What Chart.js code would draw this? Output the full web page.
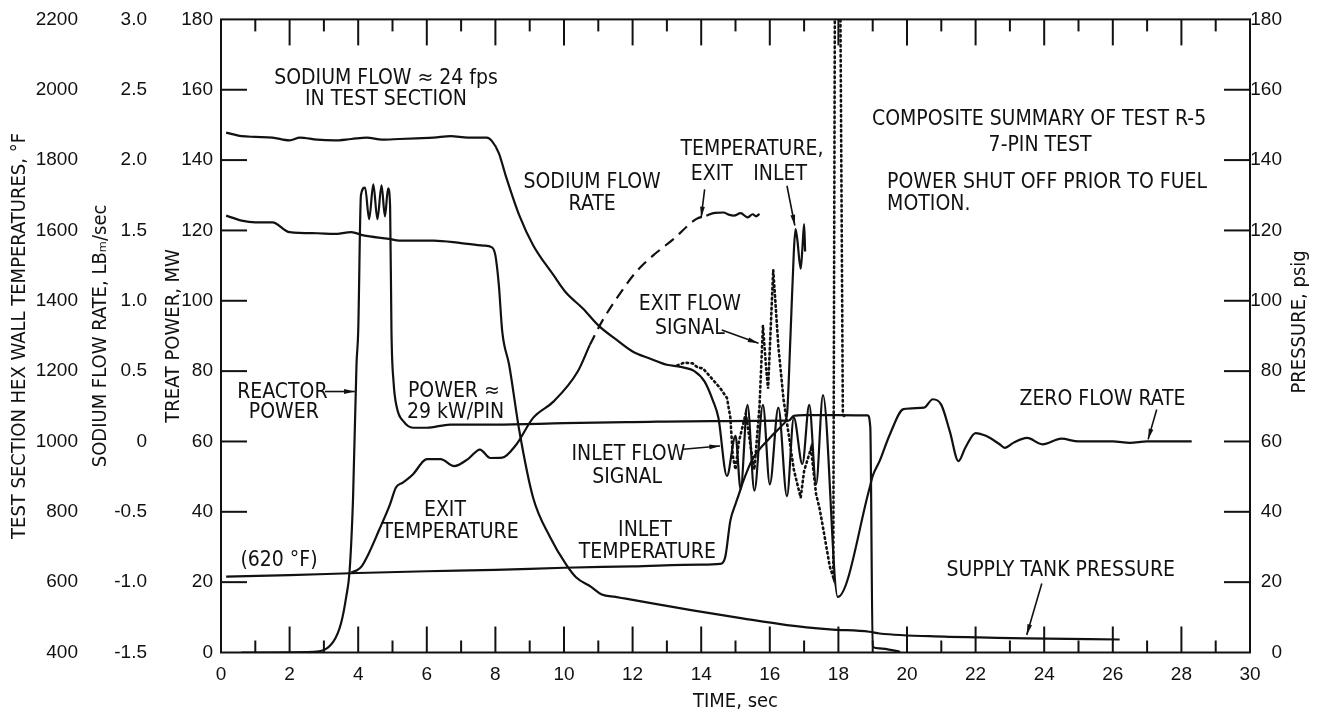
<!DOCTYPE html>
<html>
<head>
<meta charset="utf-8">
<script src="https://cdn.jsdelivr.net/npm/chart.js@4"></script>
<style>
html, body { margin: 0; padding: 0; background: #fff; }
</style>
</head>
<body>
<canvas id="myChart" width="1321" height="720"></canvas>
<script>
// tick labels
var timeTicks = [0, 2, 4, 6, 8, 10, 12, 14, 16, 18, 20, 22, 24, 26, 28, 30];
var powerTicks = [0, 20, 40, 60, 80, 100, 120, 140, 160, 180];
var flowTicks = [-1.5, -1.0, -0.5, 0, 0.5, 1.0, 1.5, 2.0, 2.5, 3.0];
var tempTicks = [400, 600, 800, 1000, 1200, 1400, 1600, 1800, 2000, 2200];
var pressTicks = [0, 20, 40, 60, 80, 100, 120, 140, 160, 180];

// sodium flow rate / inlet flow signal, lb/sec
var flowTime = [0.15, 0.6, 1.0, 1.5, 2.0, 2.3, 2.8, 3.3, 3.8, 4.25, 4.7, 5.2, 5.7, 6.2, 6.7, 7.2, 7.75, 7.9, 8.1, 8.3,
  8.7, 9.1, 9.7, 10.05, 10.55, 11.0, 11.6, 12.0, 12.5, 13.0, 13.4, 13.8, 14.1, 14.35, 14.5, 14.75, 15.0, 15.15, 15.35, 15.55,
  15.8, 16.0, 16.25, 16.5, 16.7, 16.95, 17.15, 17.35, 17.55, 17.98, 18.9, 19.0, 19.2, 19.5, 19.9, 20.5, 20.75, 21.0, 21.25,
  21.5, 21.7, 22.0, 22.3, 22.7, 22.85, 23.1, 23.5, 23.95, 24.5, 25.0, 26.0, 26.5, 27.0, 28.3];
var flowRate = [2.195, 2.17, 2.165, 2.16, 2.14, 2.16, 2.145, 2.14, 2.15, 2.16, 2.145, 2.15, 2.155, 2.16, 2.17, 2.16, 2.16, 2.135, 2.05, 1.89,
  1.605, 1.395, 1.18, 1.06, 0.945, 0.825, 0.71, 0.64, 0.59, 0.545, 0.53, 0.50, 0.425, 0.285, 0.17, -0.245, 0.04, -0.34, 0.26, -0.35,
  0.26, -0.305, 0.24, -0.39, 0.17, -0.16, 0.26, -0.305, 0.33, -1.105, -0.34, -0.245, -0.14, 0.05, 0.23, 0.24, 0.30, 0.26, 0.07,
  -0.14, -0.045, 0.06, 0.04, -0.02, -0.045, -0.01, 0.025, -0.02, 0.02, 0.0, 0.0, -0.01, 0.0, 0.0];

// exit flow signal (dotted), lb/sec
var exitSigTime = [13.3, 13.5, 13.75, 13.9, 14.05, 14.3, 14.55, 14.75, 14.85, 14.92, 15.0, 15.1, 15.3, 15.45, 15.55, 15.7, 15.8, 15.9,
  15.95, 16.1, 16.25, 16.4, 16.55, 16.7, 16.9, 17.0, 17.2, 17.35, 17.45, 17.55, 17.75, 17.85, 17.9, 18.05, 18.13, 18.2];
var exitSig = [0.54, 0.56, 0.555, 0.525, 0.52, 0.45, 0.38, 0.31, 0.17, -0.10, -0.2, 0, 0.2, -0.05, -0.2, 0.25, 0.825, 0.5,
  0.375, 1.22, 0.675, 0.3, 0.05, -0.2, -0.4, -0.21, -0.05, -0.375, -0.475, -0.61, -0.89, -0.965, 3.375, 3.375, 0.19, 0.175];

// reactor power, MW
var powerTime = [0.6, 2.7, 3.27, 3.5, 3.65, 3.75, 3.85, 3.95, 4.0, 4.08, 4.2, 4.32, 4.44, 4.56, 4.68, 4.78, 4.87, 4.93, 4.97, 5.03,
  5.13, 5.32, 5.6, 6.0, 6.68, 8.0, 10.0, 12.0, 14.3, 16.55, 16.7, 17.0, 18.0, 18.85, 18.93, 19.0, 19.2, 19.8];
var power = [0, 0.2, 3, 8.3, 15.8, 23.3, 44, 81.8, 91.2, 130, 132.2, 123.2, 133.1, 123.2, 132.8, 124, 132, 127, 91.2, 77,
  69.5, 65.7, 63.9, 63.9, 64.8, 64.8, 65.2, 65.5, 65.8, 65.9, 67.3, 67.5, 67.5, 67.4, 64, 1.6, 1.2, 0.2];

// exit temperature, deg F (measured, estimated dashed, measured again)
var exitTempTime = [3.8, 3.95, 4.1, 4.3, 4.6, 4.93, 5.1, 5.3, 5.6, 5.9, 6.0, 6.4, 6.8, 7.2, 7.55, 7.85, 8.2, 8.6, 9.1, 9.7, 10.4, 10.75];
var exitTemp = [628, 633, 645, 680, 746, 822, 869, 883, 907, 944, 950, 950, 930, 950, 977, 953, 954, 990, 1067, 1114, 1199, 1274];
var exitEstTime = [10.75, 11.1, 11.6, 12.1, 12.6, 13.2, 13.85, 14.15];
var exitEst = [1274, 1340, 1416, 1482, 1529, 1576, 1632, 1642];
var exitLateTime = [14.15, 14.4, 14.65, 14.8, 14.95, 15.15, 15.35, 15.5, 15.6, 15.7];
var exitLate = [1642, 1650, 1651, 1645, 1642, 1649, 1637, 1646, 1640, 1647];

// inlet temperature, deg F
var inletTime = [0.15, 2.0, 4.0, 6.0, 8.0, 10.0, 12.0, 14.0, 14.55, 14.7, 14.85, 15.0, 15.1, 15.2, 15.5, 16.0, 16.4, 16.5, 16.6, 16.7,
  16.75, 16.8, 16.9, 16.95, 17.0, 17.03];
var inletTemp = [616, 620, 626, 631, 635, 641, 645, 650, 652, 671, 775, 822, 850, 880, 950, 1010, 1050, 1076, 1293, 1538,
  1604, 1576, 1491, 1548, 1618, 1540];

// supply tank pressure, psig
var pressTime = [0.15, 0.6, 1.0, 1.5, 2.0, 2.8, 3.3, 3.8, 4.15, 4.9, 5.2, 6.2, 7.0, 7.65, 7.9, 8.0, 8.1, 8.2, 8.4, 8.7,
  9.1, 9.6, 10.05, 10.35, 10.8, 11.1, 11.5, 11.8, 13.75, 15.2, 16.5, 17.75, 18.9, 19.2, 21.1, 22.1, 23.5, 26.2];
var tankPress = [124.2, 122.8, 122.3, 122.3, 119.5, 119.2, 119, 119.5, 118.6, 117.6, 117.1, 117.1, 116.4, 115.7, 115.2, 112.9, 104.5, 91.2, 81.8, 62.9,
  44, 32.7, 25.2, 21.4, 18.6, 16.5, 15.8, 15.3, 12, 9.7, 7.8, 6.6, 5.9, 5.4, 4.5, 4.3, 4.0, 3.7];

// labels on the plot, placed in (time, MW) units
var notes = [
  {text: 'SODIUM FLOW \u2248 24 fps', t: 4.81, v: 163.3},
  {text: 'IN TEST SECTION', t: 4.81, v: 157.1},
  {text: 'SODIUM FLOW', t: 10.82, v: 133.6},
  {text: 'RATE', t: 10.82, v: 127.4},
  {text: 'TEMPERATURE,', t: 15.48, v: 143.0},
  {text: 'EXIT', t: 14.31, v: 136.0},
  {text: 'INLET', t: 16.3, v: 136.0},
  {text: 'COMPOSITE SUMMARY OF TEST R-5', t: 23.85, v: 151.5},
  {text: '7-PIN TEST', t: 23.88, v: 144.0},
  {text: 'POWER SHUT OFF PRIOR TO FUEL', t: 19.42, v: 133.6, align: 'left'},
  {text: 'MOTION.', t: 19.42, v: 127.5, align: 'left'},
  {text: 'EXIT FLOW', t: 13.67, v: 98.8},
  {text: 'SIGNAL', t: 13.67, v: 92.1},
  {text: 'REACTOR', t: 1.79, v: 73.8},
  {text: 'POWER', t: 1.83, v: 68.1},
  {text: 'POWER \u2248', t: 6.79, v: 74.2},
  {text: '29 kW/PIN', t: 6.84, v: 68.1},
  {text: 'INLET FLOW', t: 11.88, v: 56.3},
  {text: 'SIGNAL', t: 11.84, v: 49.7},
  {text: 'EXIT', t: 6.53, v: 40.3},
  {text: 'TEMPERATURE', t: 6.68, v: 34.2},
  {text: 'INLET', t: 12.36, v: 34.6},
  {text: 'TEMPERATURE', t: 12.43, v: 28.5},
  {text: '(620 \u00b0F)', t: 1.69, v: 26.2},
  {text: 'ZERO FLOW RATE', t: 25.7, v: 71.9},
  {text: 'SUPPLY TANK PRESSURE', t: 24.48, v: 23.3}
];
var arrows = [
  [3.03, 74.2, 3.9, 74.2],
  [14.1, 131.7, 14.0, 123.7],
  [16.5, 132.7, 16.73, 121.4],
  [14.6, 91.7, 15.67, 87.9],
  [13.47, 57.8, 14.55, 58.7],
  [27.28, 69.1, 27.03, 60.6],
  [23.93, 19.6, 23.49, 5.0]
];

function pts(xs, ys) {
  return xs.map(function (x, i) { return {x: x, y: ys[i]}; });
}
function fixedTicks(list) {
  return function (scale) { scale.ticks = list.map(function (v) { return {value: v}; }); };
}

var ink = '#111';
var tickFont = {family: '"Liberation Sans", Arial, sans-serif', size: 19};
var titleFont = {family: '"Liberation Sans Narrow", "DejaVu Sans Condensed", sans-serif', size: 20};
var noteFont = '21px "Liberation Sans Narrow", "DejaVu Sans Condensed", sans-serif';

function trace(data, axis, extra) {
  return Object.assign({data: data, yAxisID: axis, borderColor: ink, borderWidth: 2.2, pointRadius: 0,
    fill: false, cubicInterpolationMode: 'monotone'}, extra || {});
}
function plain(v) { return String(v); }

var frame = {
  id: 'frame',
  afterDatasetsDraw: function (chart) {
    var c = chart.ctx, a = chart.chartArea, x = chart.scales.x, y = chart.scales.yPower, yr = chart.scales.yPress;
    function seg(x1, y1, x2, y2) { c.beginPath(); c.moveTo(x1, y1); c.lineTo(x2, y2); c.stroke(); }
    c.save();
    c.strokeStyle = ink;
    c.fillStyle = ink;
    c.lineWidth = 2;
    c.strokeRect(a.left, a.top, a.right - a.left, a.bottom - a.top);
    for (var t = 1; t < 30; t++) {
      var px = x.getPixelForValue(t), len = t % 2 ? 12 : 26;
      seg(px, a.top, px, a.top + len);
      seg(px, a.bottom, px, a.bottom - len);
    }
    powerTicks.forEach(function (v) {
      if (v > 0 && v < 180) seg(a.left, y.getPixelForValue(v), a.left + 26, y.getPixelForValue(v));
    });
    pressTicks.forEach(function (v) {
      if (v > 0 && v < 180) seg(a.right, yr.getPixelForValue(v), a.right - 26, yr.getPixelForValue(v));
    });

    c.font = noteFont;
    c.textBaseline = 'middle';
    notes.forEach(function (n) {
      c.textAlign = n.align || 'center';
      c.fillText(n.text, x.getPixelForValue(n.t), y.getPixelForValue(n.v));
    });

    c.lineWidth = 1.6;
    arrows.forEach(function (r) {
      var x1 = x.getPixelForValue(r[0]), y1 = y.getPixelForValue(r[1]);
      var x2 = x.getPixelForValue(r[2]), y2 = y.getPixelForValue(r[3]);
      var ang = Math.atan2(y2 - y1, x2 - x1);
      seg(x1, y1, x2, y2);
      c.beginPath();
      c.moveTo(x2, y2);
      c.lineTo(x2 - 11 * Math.cos(ang - 0.22), y2 - 11 * Math.sin(ang - 0.22));
      c.lineTo(x2 - 11 * Math.cos(ang + 0.22), y2 - 11 * Math.sin(ang + 0.22));
      c.closePath();
      c.fill();
    });

    // right axis title reads bottom to top
    c.font = '20px "Liberation Sans Narrow", "DejaVu Sans Condensed", sans-serif';
    c.textAlign = 'center';
    c.translate(a.right + 50, (a.top + a.bottom) / 2 - 14);
    c.rotate(-Math.PI / 2);
    c.fillText('PRESSURE, psig', 0, 0);
    c.restore();
  }
};

var ctx = document.getElementById('myChart').getContext('2d');
var myChart = new Chart(ctx, {
  type: 'line',
  data: {
    datasets: [
      trace(pts(flowTime, flowRate), 'yFlow'),
      trace(pts(exitSigTime, exitSig), 'yFlow', {borderDash: [1.5, 3.5], borderCapStyle: 'round', borderWidth: 2.6, cubicInterpolationMode: 'default', tension: 0}),
      trace(pts(powerTime, power), 'yPower'),
      trace(pts(exitTempTime, exitTemp), 'yTemp'),
      trace(pts(exitEstTime, exitEst), 'yTemp', {borderDash: [11, 7]}),
      trace(pts(exitLateTime, exitLate), 'yTemp'),
      trace(pts(inletTime, inletTemp), 'yTemp'),
      trace(pts(pressTime, tankPress), 'yPress')
    ]
  },
  options: {
    responsive: false,
    animation: false,
    events: [],
    layout: {padding: {left: 0, top: 16, right: 39, bottom: 0}},
    plugins: {legend: {display: false}, tooltip: {enabled: false}},
    scales: {
      x: {
        type: 'linear', min: 0, max: 30,
        afterBuildTicks: fixedTicks(timeTicks),
        afterFit: function (s) { s.height = 67.5; },
        ticks: {font: tickFont, color: ink, padding: 11, maxRotation: 0, autoSkip: false, callback: plain},
        grid: {display: false, drawTicks: false},
        border: {display: false},
        title: {display: true, text: 'TIME, sec', font: titleFont, color: ink, padding: {top: 0, bottom: 6}}
      },
      yPower: {
        position: 'left', weight: 1, min: 0, max: 180,
        afterBuildTicks: fixedTicks(powerTicks),
        afterFit: function (s) { s.width = 66; },
        ticks: {font: tickFont, color: ink, padding: 8, callback: plain},
        grid: {display: false, drawTicks: false},
        border: {display: false},
        title: {display: true, text: 'TREAT POWER, MW', font: titleFont, color: ink, padding: {top: 7, bottom: 0}}
      },
      yFlow: {
        position: 'left', weight: 2, min: -1.5, max: 3.0,
        afterBuildTicks: fixedTicks(flowTicks),
        afterFit: function (s) { s.width = 69; },
        ticks: {font: tickFont, color: ink, padding: 8, callback: function (v) { return v === 0 ? '0' : v.toFixed(1); }},
        grid: {display: false, drawTicks: false},
        border: {display: false},
        title: {display: true, text: 'SODIUM FLOW RATE, LB\u2098/sec', font: titleFont, color: ink, padding: {top: 3, bottom: 0}}
      },
      yTemp: {
        position: 'left', weight: 3, min: 400, max: 2200,
        afterBuildTicks: fixedTicks(tempTicks),
        afterFit: function (s) { s.width = 86; },
        ticks: {font: tickFont, color: ink, padding: 8, callback: plain},
        grid: {display: false, drawTicks: false},
        border: {display: false},
        title: {display: true, text: 'TEST SECTION HEX WALL TEMPERATURES, \u00b0F', font: titleFont, color: ink, padding: {top: 8, bottom: 0}}
      },
      yPress: {
        position: 'right', min: 0, max: 180,
        afterBuildTicks: fixedTicks(pressTicks),
        afterFit: function (s) { s.width = 32; },
        ticks: {font: tickFont, color: ink, padding: 0, crossAlign: 'far', callback: plain},
        grid: {display: false, drawTicks: false},
        border: {display: false}
      }
    }
  },
  plugins: [frame]
});
</script>
</body>
</html>
